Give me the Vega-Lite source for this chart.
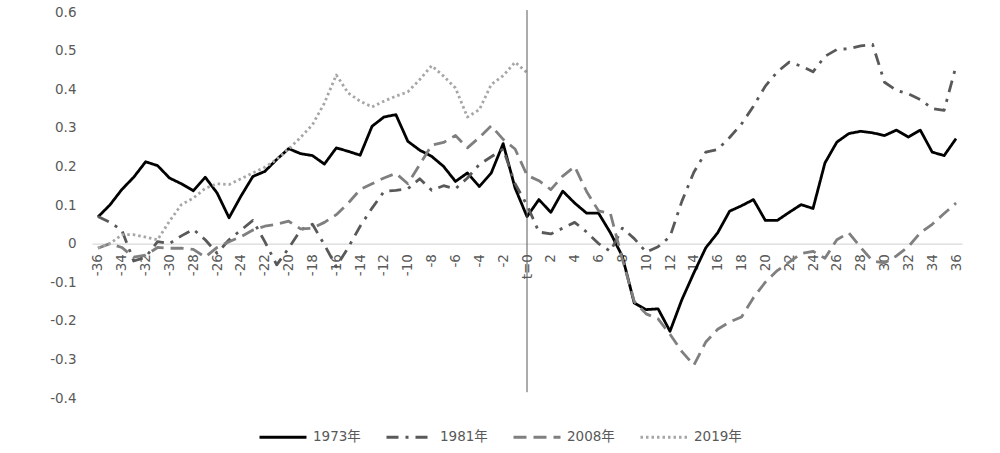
{
  "$schema": "https://vega.github.io/schema/vega-lite/v6.json",
  "width": 870,
  "height": 386,
  "autosize": {"type": "none"},
  "padding": {"left": 92, "top": 12, "right": 38, "bottom": 55},
  "background": "white",
  "config": {
    "view": {"stroke": null},
    "font": "DejaVu Sans, Noto Sans CJK SC, sans-serif",
    "axis": {"labelOverlap": false, "labelSeparation": 0, "labelBound": false, "grid": false, "ticks": false, "tickSize": 0, "title": null, "tickCount": 100},
    "axisX": {"labelFlush": false}
  },
  "data": {"values": [
    {"t":-36,"series":"1973年","value":0.069},{"t":-35,"series":"1973年","value":0.1},{"t":-34,"series":"1973年","value":0.14},{"t":-33,"series":"1973年","value":0.172},{"t":-32,"series":"1973年","value":0.212},{"t":-31,"series":"1973年","value":0.202},{"t":-30,"series":"1973年","value":0.17},{"t":-29,"series":"1973年","value":0.155},{"t":-28,"series":"1973年","value":0.137},{"t":-27,"series":"1973年","value":0.172},{"t":-26,"series":"1973年","value":0.131},{"t":-25,"series":"1973年","value":0.067},{"t":-24,"series":"1973年","value":0.123},{"t":-23,"series":"1973年","value":0.174},{"t":-22,"series":"1973年","value":0.187},{"t":-21,"series":"1973年","value":0.218},{"t":-20,"series":"1973年","value":0.246},{"t":-19,"series":"1973年","value":0.233},{"t":-18,"series":"1973年","value":0.228},{"t":-17,"series":"1973年","value":0.206},{"t":-16,"series":"1973年","value":0.248},{"t":-15,"series":"1973年","value":0.239},{"t":-14,"series":"1973年","value":0.229},{"t":-13,"series":"1973年","value":0.304},{"t":-12,"series":"1973年","value":0.328},{"t":-11,"series":"1973年","value":0.334},{"t":-10,"series":"1973年","value":0.265},{"t":-9,"series":"1973年","value":0.242},{"t":-8,"series":"1973年","value":0.226},{"t":-7,"series":"1973年","value":0.2},{"t":-6,"series":"1973年","value":0.161},{"t":-5,"series":"1973年","value":0.183},{"t":-4,"series":"1973年","value":0.148},{"t":-3,"series":"1973年","value":0.183},{"t":-2,"series":"1973年","value":0.259},{"t":-1,"series":"1973年","value":0.144},{"t":0,"series":"1973年","value":0.07},{"t":1,"series":"1973年","value":0.114},{"t":2,"series":"1973年","value":0.081},{"t":3,"series":"1973年","value":0.136},{"t":4,"series":"1973年","value":0.105},{"t":5,"series":"1973年","value":0.079},{"t":6,"series":"1973年","value":0.079},{"t":7,"series":"1973年","value":0.028},{"t":8,"series":"1973年","value":-0.033},{"t":9,"series":"1973年","value":-0.154},{"t":10,"series":"1973年","value":-0.171},{"t":11,"series":"1973年","value":-0.169},{"t":12,"series":"1973年","value":-0.227},{"t":13,"series":"1973年","value":-0.145},{"t":14,"series":"1973年","value":-0.076},{"t":15,"series":"1973年","value":-0.011},{"t":16,"series":"1973年","value":0.028},{"t":17,"series":"1973年","value":0.084},{"t":18,"series":"1973年","value":0.098},{"t":19,"series":"1973年","value":0.114},{"t":20,"series":"1973年","value":0.06},{"t":21,"series":"1973年","value":0.06},{"t":22,"series":"1973年","value":0.081},{"t":23,"series":"1973年","value":0.101},{"t":24,"series":"1973年","value":0.091},{"t":25,"series":"1973年","value":0.209},{"t":26,"series":"1973年","value":0.263},{"t":27,"series":"1973年","value":0.285},{"t":28,"series":"1973年","value":0.291},{"t":29,"series":"1973年","value":0.287},{"t":30,"series":"1973年","value":0.28},{"t":31,"series":"1973年","value":0.294},{"t":32,"series":"1973年","value":0.276},{"t":33,"series":"1973年","value":0.294},{"t":34,"series":"1973年","value":0.237},{"t":35,"series":"1973年","value":0.228},{"t":36,"series":"1973年","value":0.272},
    {"t":-36,"series":"1981年","value":0.07},{"t":-35,"series":"1981年","value":0.055},{"t":-34,"series":"1981年","value":0.035},{"t":-33,"series":"1981年","value":-0.045},{"t":-32,"series":"1981年","value":-0.035},{"t":-31,"series":"1981年","value":0.005},{"t":-30,"series":"1981年","value":0.0},{"t":-29,"series":"1981年","value":0.02},{"t":-28,"series":"1981年","value":0.037},{"t":-27,"series":"1981年","value":0.01},{"t":-26,"series":"1981年","value":-0.025},{"t":-25,"series":"1981年","value":0.01},{"t":-24,"series":"1981年","value":0.035},{"t":-23,"series":"1981年","value":0.06},{"t":-22,"series":"1981年","value":0.005},{"t":-21,"series":"1981年","value":-0.055},{"t":-20,"series":"1981年","value":-0.012},{"t":-19,"series":"1981年","value":0.035},{"t":-18,"series":"1981年","value":0.05},{"t":-17,"series":"1981年","value":-0.003},{"t":-16,"series":"1981年","value":-0.06},{"t":-15,"series":"1981年","value":-0.01},{"t":-14,"series":"1981年","value":0.045},{"t":-13,"series":"1981年","value":0.092},{"t":-12,"series":"1981年","value":0.135},{"t":-11,"series":"1981年","value":0.138},{"t":-10,"series":"1981年","value":0.142},{"t":-9,"series":"1981年","value":0.168},{"t":-8,"series":"1981年","value":0.138},{"t":-7,"series":"1981年","value":0.15},{"t":-6,"series":"1981年","value":0.142},{"t":-5,"series":"1981年","value":0.17},{"t":-4,"series":"1981年","value":0.205},{"t":-3,"series":"1981年","value":0.225},{"t":-2,"series":"1981年","value":0.245},{"t":-1,"series":"1981年","value":0.155},{"t":0,"series":"1981年","value":0.1},{"t":1,"series":"1981年","value":0.03},{"t":2,"series":"1981年","value":0.025},{"t":3,"series":"1981年","value":0.04},{"t":4,"series":"1981年","value":0.055},{"t":5,"series":"1981年","value":0.03},{"t":6,"series":"1981年","value":0.0},{"t":7,"series":"1981年","value":-0.02},{"t":8,"series":"1981年","value":0.04},{"t":9,"series":"1981年","value":0.013},{"t":10,"series":"1981年","value":-0.022},{"t":11,"series":"1981年","value":-0.008},{"t":12,"series":"1981年","value":0.018},{"t":13,"series":"1981年","value":0.11},{"t":14,"series":"1981年","value":0.185},{"t":15,"series":"1981年","value":0.237},{"t":16,"series":"1981年","value":0.244},{"t":17,"series":"1981年","value":0.275},{"t":18,"series":"1981年","value":0.31},{"t":19,"series":"1981年","value":0.356},{"t":20,"series":"1981年","value":0.408},{"t":21,"series":"1981年","value":0.445},{"t":22,"series":"1981年","value":0.47},{"t":23,"series":"1981年","value":0.46},{"t":24,"series":"1981年","value":0.445},{"t":25,"series":"1981年","value":0.485},{"t":26,"series":"1981年","value":0.503},{"t":27,"series":"1981年","value":0.505},{"t":28,"series":"1981年","value":0.512},{"t":29,"series":"1981年","value":0.516},{"t":30,"series":"1981年","value":0.418},{"t":31,"series":"1981年","value":0.397},{"t":32,"series":"1981年","value":0.388},{"t":33,"series":"1981年","value":0.373},{"t":34,"series":"1981年","value":0.35},{"t":35,"series":"1981年","value":0.345},{"t":36,"series":"1981年","value":0.46},
    {"t":-36,"series":"2008年","value":-0.012},{"t":-35,"series":"2008年","value":0.0},{"t":-34,"series":"2008年","value":-0.01},{"t":-33,"series":"2008年","value":-0.035},{"t":-32,"series":"2008年","value":-0.03},{"t":-31,"series":"2008年","value":-0.01},{"t":-30,"series":"2008年","value":-0.012},{"t":-29,"series":"2008年","value":-0.012},{"t":-28,"series":"2008年","value":-0.015},{"t":-27,"series":"2008年","value":-0.035},{"t":-26,"series":"2008年","value":-0.01},{"t":-25,"series":"2008年","value":0.005},{"t":-24,"series":"2008年","value":0.018},{"t":-23,"series":"2008年","value":0.035},{"t":-22,"series":"2008年","value":0.045},{"t":-21,"series":"2008年","value":0.05},{"t":-20,"series":"2008年","value":0.058},{"t":-19,"series":"2008年","value":0.038},{"t":-18,"series":"2008年","value":0.04},{"t":-17,"series":"2008年","value":0.055},{"t":-16,"series":"2008年","value":0.075},{"t":-15,"series":"2008年","value":0.105},{"t":-14,"series":"2008年","value":0.14},{"t":-13,"series":"2008年","value":0.155},{"t":-12,"series":"2008年","value":0.17},{"t":-11,"series":"2008年","value":0.182},{"t":-10,"series":"2008年","value":0.155},{"t":-9,"series":"2008年","value":0.205},{"t":-8,"series":"2008年","value":0.255},{"t":-7,"series":"2008年","value":0.262},{"t":-6,"series":"2008年","value":0.28},{"t":-5,"series":"2008年","value":0.248},{"t":-4,"series":"2008年","value":0.275},{"t":-3,"series":"2008年","value":0.305},{"t":-2,"series":"2008年","value":0.27},{"t":-1,"series":"2008年","value":0.245},{"t":0,"series":"2008年","value":0.177},{"t":1,"series":"2008年","value":0.163},{"t":2,"series":"2008年","value":0.14},{"t":3,"series":"2008年","value":0.175},{"t":4,"series":"2008年","value":0.2},{"t":5,"series":"2008年","value":0.135},{"t":6,"series":"2008年","value":0.085},{"t":7,"series":"2008年","value":0.078},{"t":8,"series":"2008年","value":-0.04},{"t":9,"series":"2008年","value":-0.15},{"t":10,"series":"2008年","value":-0.182},{"t":11,"series":"2008年","value":-0.195},{"t":12,"series":"2008年","value":-0.235},{"t":13,"series":"2008年","value":-0.28},{"t":14,"series":"2008年","value":-0.315},{"t":15,"series":"2008年","value":-0.255},{"t":16,"series":"2008年","value":-0.222},{"t":17,"series":"2008年","value":-0.203},{"t":18,"series":"2008年","value":-0.19},{"t":19,"series":"2008年","value":-0.14},{"t":20,"series":"2008年","value":-0.1},{"t":21,"series":"2008年","value":-0.07},{"t":22,"series":"2008年","value":-0.048},{"t":23,"series":"2008年","value":-0.026},{"t":24,"series":"2008年","value":-0.02},{"t":25,"series":"2008年","value":-0.038},{"t":26,"series":"2008年","value":0.01},{"t":27,"series":"2008年","value":0.028},{"t":28,"series":"2008年","value":-0.01},{"t":29,"series":"2008年","value":-0.045},{"t":30,"series":"2008年","value":-0.05},{"t":31,"series":"2008年","value":-0.032},{"t":32,"series":"2008年","value":-0.008},{"t":33,"series":"2008年","value":0.028},{"t":34,"series":"2008年","value":0.05},{"t":35,"series":"2008年","value":0.078},{"t":36,"series":"2008年","value":0.105},
    {"t":-36,"series":"2019年","value":-0.011},{"t":-35,"series":"2019年","value":0.0},{"t":-34,"series":"2019年","value":0.023},{"t":-33,"series":"2019年","value":0.023},{"t":-32,"series":"2019年","value":0.017},{"t":-31,"series":"2019年","value":0.01},{"t":-30,"series":"2019年","value":0.058},{"t":-29,"series":"2019年","value":0.101},{"t":-28,"series":"2019年","value":0.118},{"t":-27,"series":"2019年","value":0.143},{"t":-26,"series":"2019年","value":0.155},{"t":-25,"series":"2019年","value":0.153},{"t":-24,"series":"2019年","value":0.168},{"t":-23,"series":"2019年","value":0.183},{"t":-22,"series":"2019年","value":0.198},{"t":-21,"series":"2019年","value":0.218},{"t":-20,"series":"2019年","value":0.245},{"t":-19,"series":"2019年","value":0.275},{"t":-18,"series":"2019年","value":0.308},{"t":-17,"series":"2019年","value":0.364},{"t":-16,"series":"2019年","value":0.437},{"t":-15,"series":"2019年","value":0.39},{"t":-14,"series":"2019年","value":0.369},{"t":-13,"series":"2019年","value":0.354},{"t":-12,"series":"2019年","value":0.369},{"t":-11,"series":"2019年","value":0.382},{"t":-10,"series":"2019年","value":0.393},{"t":-9,"series":"2019年","value":0.425},{"t":-8,"series":"2019年","value":0.461},{"t":-7,"series":"2019年","value":0.434},{"t":-6,"series":"2019年","value":0.403},{"t":-5,"series":"2019年","value":0.328},{"t":-4,"series":"2019年","value":0.347},{"t":-3,"series":"2019年","value":0.412},{"t":-2,"series":"2019年","value":0.435},{"t":-1,"series":"2019年","value":0.47},{"t":0,"series":"2019年","value":0.443}
  ]},
  "layer": [
    {
      "mark": {"type": "line", "strokeWidth": 2.8, "strokeJoin": "round", "strokeCap": "butt"},
      "encoding": {
        "x": {
          "field": "t", "type": "quantitative",
          "scale": {"domain": [-36.5, 36.5], "nice": false, "zero": false},
          "axis": {
            "orient": "bottom", "offset": -154.4, "title": null, "grid": false,
            "values": [-36,-34,-32,-30,-28,-26,-24,-22,-20,-18,-16,-14,-12,-10,-8,-6,-4,-2,0,2,4,6,8,10,12,14,16,18,20,22,24,26,28,30,32,34,36],
            "tickCount": 100,
            "labelExpr": "datum.value == 0 ? 't=0' : '' + datum.value",
            "labelAngle": -90, "labelAlign": "right", "labelBaseline": "middle",
            "labelPadding": 10, "ticks": false, "tickSize": 0,
            "labelFlush": false, "labelOverlap": false, "labelBound": false,
            "domainColor": "#d9d9d9", "domainWidth": 1.2,
            "labelFontSize": 13.5, "labelColor": "#595959", "labelFont": "DejaVu Sans"
          }
        },
        "y": {
          "field": "value", "type": "quantitative",
          "scale": {"domain": [-0.4, 0.6], "nice": false},
          "axis": {
            "title": null, "grid": false, "domain": false, "ticks": false, "tickSize": 0,
            "values": [-0.4,-0.3,-0.2,-0.1,0,0.1,0.2,0.3,0.4,0.5,0.6],
            "tickCount": 100,
            "labelExpr": "'' + (round(datum.value * 10) / 10)",
            "labelOverlap": false,
            "labelPadding": 16, "labelFontSize": 13.5, "labelColor": "#595959", "labelFont": "DejaVu Sans"
          }
        },
        "color": {
          "field": "series", "type": "nominal",
          "scale": {"domain": ["1973年","1981年","2008年","2019年"], "range": ["#000000","#595959","#7f7f7f","#a6a6a6"]},
          "legend": {
            "title": null, "orient": "none", "legendX": 166, "legendY": 400, "direction": "horizontal",
            "symbolType": "stroke", "symbolSize": 2209, "symbolStrokeWidth": 3,
            "labelFontSize": 13.5, "labelColor": "#595959", "labelFont": "DejaVu Sans, Noto Sans CJK SC",
            "columnPadding": 19, "labelOffset": 5, "padding": 0
          }
        },
        "strokeDash": {
          "field": "series", "type": "nominal",
          "scale": {"domain": ["1973年","1981年","2008年","2019年"], "range": [[1,0],[12,7,3,7],[13,7],[2.5,3]]},
          "legend": {
            "title": null, "orient": "none", "legendX": 166, "legendY": 400, "direction": "horizontal",
            "symbolType": "stroke", "symbolSize": 2209, "symbolStrokeWidth": 3,
            "labelFontSize": 13.5, "labelColor": "#595959", "labelFont": "DejaVu Sans, Noto Sans CJK SC",
            "columnPadding": 19, "labelOffset": 5, "padding": 0
          }
        }
      }
    },
    {
      "data": {"values": [{}]},
      "mark": {"type": "rule", "color": "#595959", "strokeWidth": 1},
      "encoding": {
        "x": {"datum": 0, "type": "quantitative"},
        "y": {"datum": 0.605, "type": "quantitative"},
        "y2": {"datum": -0.385}
      }
    }
  ]
}
